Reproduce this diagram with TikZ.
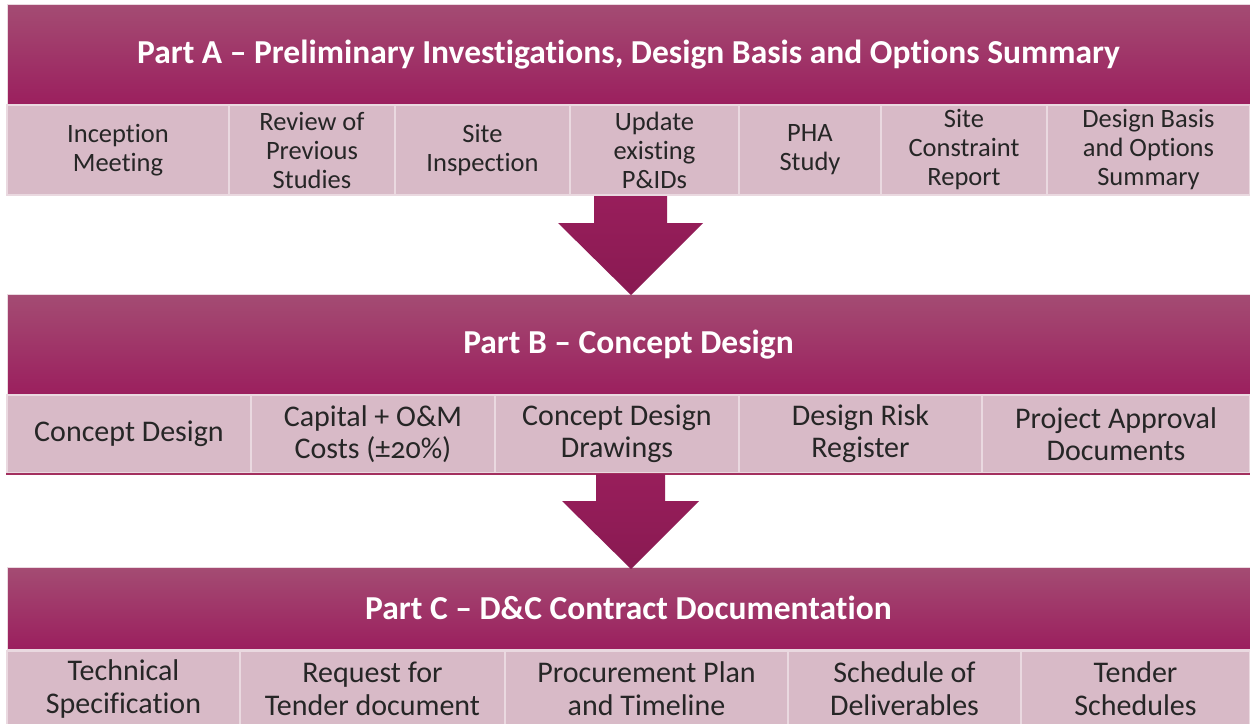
\documentclass[tikz,border=0pt]{standalone}
\usepackage{fontspec}
\setmainfont{Carlito}[Numbers=OldStyle, Ligatures=NoCommon]
\usetikzlibrary{calc}
\definecolor{hdtop}{HTML}{A44C73}
\definecolor{hdbot}{HTML}{9B1F5E}
\definecolor{cellfill}{HTML}{D8BAC7}
\definecolor{cellline}{HTML}{EAD9E0}
\definecolor{celltext}{HTML}{262626}
\definecolor{arrtop}{HTML}{981E5B}
\definecolor{arrbot}{HTML}{891A52}
\definecolor{rule}{HTML}{A3305F}
\tikzset{
  header/.style={rectangle, top color=hdtop, bottom color=hdbot, draw=cellline,
    line width=0.8pt, text=white, font=\fontsize{33.5}{37}\selectfont\bfseries,
    inner sep=0pt},
  cellA/.style={rectangle, fill=cellfill, draw=cellline, line width=1.5pt,
    text=celltext, align=center, inner sep=0pt, minimum height=90pt,
    font=\fontsize{26.5}{29}\selectfont},
  cellB/.style={cellA, minimum height=78pt, font=\fontsize{30}{32}\selectfont},
  cellC/.style={cellA, minimum height=76pt, font=\fontsize{30}{33}\selectfont},
  blockarrow/.style={top color=arrtop, bottom color=arrbot, draw=none}
}
\begin{document}
\begin{tikzpicture}[x=1pt,y=-1pt]
\useasboundingbox (0,0) rectangle (1250,723);
\fill[white] (0,0) rectangle (1250,723);

% ---- Part A ----
\node[header, minimum width=1243pt, minimum height=101pt] (ha) at (628.5,54.5)
  {Part A -- Preliminary Investigations, Design Basis and Options Summary};
\node[cellA, minimum width=222pt] (a1) at (118,150)    {Inception\\Meeting};
\node[cellA, minimum width=166pt] (a2) at (312,150)    {Review of\\Previous\\Studies};
\node[cellA, minimum width=175pt] (a3) at (482.5,150)  {Site\\Inspection};
\node[cellA, minimum width=169pt] (a4) at (654.5,150)  {Update\\existing\\P\&IDs};
\node[cellA, minimum width=142pt] (a5) at (810,150)    {PHA\\Study};
\node[cellA, minimum width=166pt] (a6) at (964,150)    {Site\\Constraint\\Report};
\node[cellA, minimum width=203pt] (a7) at (1148.5,150) {Design Basis\\and Options\\Summary};

% ---- Part B ----
\node[header, minimum width=1243pt, minimum height=101pt] (hb) at (628.5,344.5)
  {Part B -- Concept Design};
\node[cellB, minimum width=244pt] (b1) at (129,434)    {Concept Design};
\node[cellB, minimum width=244pt] (b2) at (373,434)    {Capital + O\&M\\Costs (±20\%)};
\node[cellB, minimum width=244pt] (b3) at (617,434)    {Concept Design\\Drawings};
\node[cellB, minimum width=243pt] (b4) at (860.5,434)  {Design Risk\\Register};
\node[cellB, minimum width=268pt] (b5) at (1116,434)   {Project Approval\\Documents};
\draw[rule, line width=1.5pt] (b1.south west) -- (b5.south east);

% ---- Part C ----
\node[header, minimum width=1243pt, minimum height=82pt] (hc) at (628.5,608)
  {Part C -- D\&C Contract Documentation};
\node[cellC, minimum width=233pt] (c1) at (123.5,689)  {Technical\\Specification};
\node[cellC, minimum width=265pt] (c2) at (372.5,689)  {Request for\\Tender document};
\node[cellC, minimum width=283pt] (c3) at (646.5,689)  {Procurement Plan\\and Timeline};
\node[cellC, minimum width=233pt] (c4) at (904.5,689)  {Schedule of\\Deliverables};
\node[cellC, minimum width=229pt] (c5) at (1135.5,689) {Tender\\Schedules};

% ---- block arrows between the parts ----
\coordinate (t1) at (631,295);
\shade[blockarrow] (594,196) -- (667,196) -- (667,223) -- (703,223) -- (t1)
  -- (558,223) -- (594,223) -- cycle;
\coordinate (t2) at (631,569);
\shade[blockarrow] (596,474) -- (665,474) -- (665,501) -- (699,501) -- (t2)
  -- (562,501) -- (596,501) -- cycle;
\end{tikzpicture}
\end{document}
